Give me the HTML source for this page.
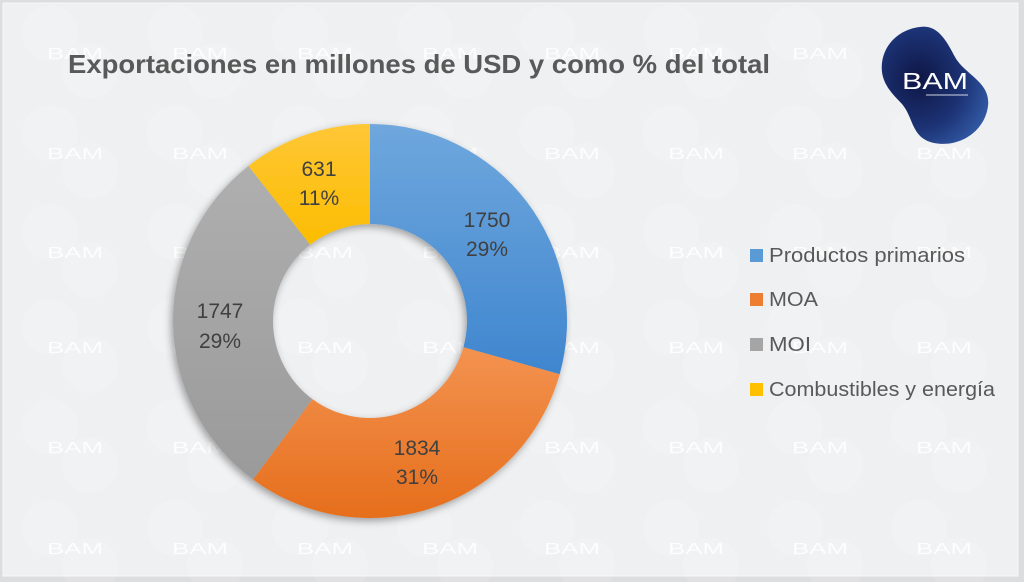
<!DOCTYPE html>
<html>
<head>
<meta charset="utf-8">
<style>
html,body{margin:0;padding:0;background:#dcdddf;}
svg{display:block;}
</style>
</head>
<body>
<svg width="1024" height="582" viewBox="0 0 1024 582" xmlns="http://www.w3.org/2000/svg">
  <defs>
    <linearGradient id="gBlue" x1="0" y1="0" x2="0" y2="1">
      <stop offset="0" stop-color="#6fa7dd"/>
      <stop offset="1" stop-color="#3f86cf"/>
    </linearGradient>
    <linearGradient id="gOrange" x1="0" y1="0" x2="0" y2="1">
      <stop offset="0" stop-color="#f39350"/>
      <stop offset="1" stop-color="#e66e1c"/>
    </linearGradient>
    <linearGradient id="gGray" x1="0" y1="0" x2="0" y2="1">
      <stop offset="0" stop-color="#afafaf"/>
      <stop offset="1" stop-color="#9a9a9a"/>
    </linearGradient>
    <linearGradient id="gYellow" x1="0" y1="0" x2="0" y2="1">
      <stop offset="0" stop-color="#ffc737"/>
      <stop offset="1" stop-color="#fbbd00"/>
    </linearGradient>
    <radialGradient id="gLogo" cx="0.35" cy="0.45" r="0.75">
      <stop offset="0" stop-color="#0e1645"/>
      <stop offset="0.55" stop-color="#1c3274"/>
      <stop offset="1" stop-color="#3560ad"/>
    </radialGradient>
    <filter id="shadow" x="-20%" y="-20%" width="140%" height="140%">
      <feDropShadow dx="-2" dy="3" stdDeviation="4" flood-color="#000" flood-opacity="0.35"/>
    </filter>
    <g id="wm">
      <circle cx="-25" cy="-20" r="28" fill="#ffffff" fill-opacity="0.14"/>
      <circle cx="15" cy="18" r="28" fill="#ffffff" fill-opacity="0.14"/>
      <text x="-28" y="6" font-family="Liberation Sans, sans-serif" font-size="16" fill="#ffffff" fill-opacity="0.85" textLength="56" lengthAdjust="spacingAndGlyphs">BAM</text>
    </g>
  </defs>

  <rect x="0" y="0" width="1024" height="582" fill="#dcdddf"/>
  <rect x="3" y="3" width="1015" height="573" fill="#eff0f2" stroke="#f7f7f8" stroke-width="1"/>

  <g>
    <use href="#wm" x="75" y="53"/><use href="#wm" x="200" y="53"/><use href="#wm" x="325" y="53"/><use href="#wm" x="450" y="53"/><use href="#wm" x="572" y="53"/><use href="#wm" x="696" y="53"/><use href="#wm" x="820" y="53"/>
    <use href="#wm" x="75" y="153"/><use href="#wm" x="200" y="153"/><use href="#wm" x="325" y="153"/><use href="#wm" x="450" y="153"/><use href="#wm" x="572" y="153"/><use href="#wm" x="696" y="153"/><use href="#wm" x="820" y="153"/><use href="#wm" x="944" y="153"/>
    <use href="#wm" x="75" y="252"/><use href="#wm" x="200" y="252"/><use href="#wm" x="325" y="252"/><use href="#wm" x="450" y="252"/><use href="#wm" x="572" y="252"/><use href="#wm" x="696" y="252"/><use href="#wm" x="820" y="252"/><use href="#wm" x="944" y="252"/>
    <use href="#wm" x="75" y="347"/><use href="#wm" x="200" y="347"/><use href="#wm" x="325" y="347"/><use href="#wm" x="450" y="347"/><use href="#wm" x="572" y="347"/><use href="#wm" x="696" y="347"/><use href="#wm" x="820" y="347"/><use href="#wm" x="944" y="347"/>
    <use href="#wm" x="75" y="447"/><use href="#wm" x="200" y="447"/><use href="#wm" x="325" y="447"/><use href="#wm" x="450" y="447"/><use href="#wm" x="572" y="447"/><use href="#wm" x="696" y="447"/><use href="#wm" x="820" y="447"/><use href="#wm" x="944" y="447"/>
    <use href="#wm" x="75" y="548"/><use href="#wm" x="200" y="548"/><use href="#wm" x="325" y="548"/><use href="#wm" x="450" y="548"/><use href="#wm" x="572" y="548"/><use href="#wm" x="696" y="548"/><use href="#wm" x="820" y="548"/><use href="#wm" x="944" y="548"/>
  </g>

  <text x="68" y="73" font-family="Liberation Sans, sans-serif" font-weight="bold" font-size="26" fill="#595959" textLength="702" lengthAdjust="spacingAndGlyphs">Exportaciones en millones de USD y como % del total</text>

  <path d="M920,27 C938,24 947,42 955,57 C965,75 991,82 988,106 C985,131 960,148 934,143 C911,138 914,118 902,104 C889,91 880,80 882,63 C884,44 900,29 920,27 Z" fill="url(#gLogo)"/>
  <text x="902" y="89" font-family="Liberation Sans, sans-serif" font-size="23" fill="#ffffff" textLength="66" lengthAdjust="spacingAndGlyphs">BAM</text>
  <line x1="926" y1="95" x2="968" y2="95" stroke="#ffffff" stroke-width="1" stroke-opacity="0.8"/>

  <g filter="url(#shadow)">
    <path d="M370,124 A197,197 0 0 1 559.68,374.21 L463.39,347.20 A97,97 0 0 0 370,224 Z" fill="url(#gBlue)"/>
    <path d="M559.68,374.21 A197,197 0 0 1 253.08,479.55 L312.43,399.07 A97,97 0 0 0 463.39,347.20 Z" fill="url(#gOrange)"/>
    <path d="M253.08,479.55 A197,197 0 0 1 248.45,165.98 L310.15,244.67 A97,97 0 0 0 312.43,399.07 Z" fill="url(#gGray)"/>
    <path d="M248.45,165.98 A197,197 0 0 1 370,124 L370,224 A97,97 0 0 0 310.15,244.67 Z" fill="url(#gYellow)"/>
  </g>

  <g font-family="Liberation Sans, sans-serif" font-size="21" fill="#404040" text-anchor="middle">
    <text x="319" y="176">631</text>
    <text x="319" y="205">11%</text>
    <text x="487" y="227">1750</text>
    <text x="487" y="256">29%</text>
    <text x="220" y="318">1747</text>
    <text x="220" y="348">29%</text>
    <text x="417" y="455">1834</text>
    <text x="417" y="484">31%</text>
  </g>

  <g font-family="Liberation Sans, sans-serif" font-size="20" fill="#595959">
    <rect x="750" y="249" width="13" height="13" fill="#5b9bd5"/>
    <text x="769" y="262" textLength="196" lengthAdjust="spacingAndGlyphs">Productos primarios</text>
    <rect x="750" y="293" width="13" height="13" fill="#ed7d31"/>
    <text x="769" y="306" textLength="49" lengthAdjust="spacingAndGlyphs">MOA</text>
    <rect x="750" y="338" width="13" height="13" fill="#a5a5a5"/>
    <text x="769" y="351" textLength="42" lengthAdjust="spacingAndGlyphs">MOI</text>
    <rect x="750" y="383" width="13" height="13" fill="#ffc000"/>
    <text x="769" y="396" textLength="226" lengthAdjust="spacingAndGlyphs">Combustibles y energía</text>
  </g>
</svg>
</body>
</html>
